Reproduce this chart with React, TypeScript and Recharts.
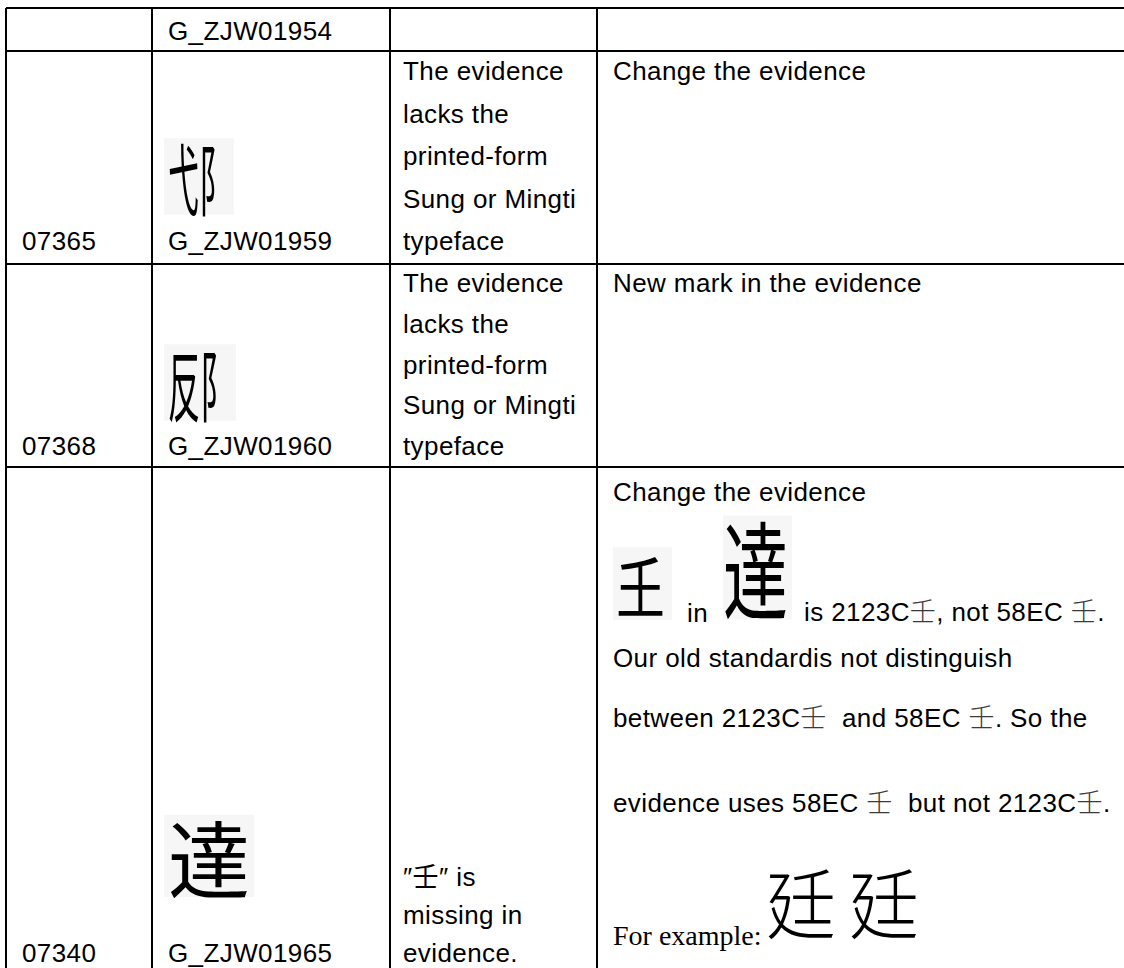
import React from "react";
import { ComposedChart, Scatter, XAxis, YAxis, ReferenceLine } from "recharts";

// table content
const rowIds = ["", "07365", "07368", "07340"];
const sourceRefs = ["G_ZJW01954", "G_ZJW01959", "G_ZJW01960", "G_ZJW01965"];
const glyphPics = ["", "弋阝", "反阝", "達"];
const problemLines = [
  [],
  ["The evidence", "lacks the", "printed-form", "Sung or Mingti", "typeface"],
  ["The evidence", "lacks the", "printed-form", "Sung or Mingti", "typeface"],
  ["″壬″ is", "missing in", "evidence."],
];
const actionLines = [
  [],
  ["Change the evidence"],
  ["New mark in the evidence"],
  [
    "Change the evidence",
    "Our old standardis not distinguish",
    "between 2123C壬  and 58EC 壬. So the",
    "evidence uses 58EC 壬  but not 2123C壬.",
  ],
];
const sealRun = ["𡈼", "in", "達", "is 2123C壬, not 58EC 壬."];
const exampleLabel = "For example:";
const exampleGlyphs = ["廷", "廷"];

// layout
const W = 1124;
const H = 968;
const colLeft = [6, 152, 390, 597];
const rowTop = [8, 51, 264, 467];
const textX = [22, 168, 403, 613];
const idBase = [40, 250, 455, 962];
const problemBase = [[], [80, 122.5, 165, 207.5, 250], [292, 332.75, 373.5, 414.25, 455], [886, 924, 962]];
const actionBase = [[], [80], [292], [501, 667, 727, 812]];
const glyphBase = [0, 210, 416, 892];
const glyphSize = [0, 78, 78, 84];
const glyphWidth = [0, 62, 64, 82];
const sealX = [616, 687, 723, 804];
const sealBase = [612, 622, 611, 621];
const exampleX = [766, 849];

const SANS = "'Liberation Sans', Arial, 'Noto Sans CJK JP', sans-serif";
const CJK = "'Noto Sans CJK JP', 'Noto Sans CJK SC', sans-serif";
const PIC = "'Liberation Sans', 'Noto Sans CJK JP', sans-serif";
const SERIF = "'Liberation Serif', 'Times New Roman', serif";
const BODY = { font: SANS, size: 26, spacing: 0.4 };

type Mark = {
  x: number; y: number; text: string;
  font: string; size: number; spacing?: number;
  w?: number; light?: boolean; weight?: number; bg?: number[];
};

const marks: Mark[] = [];
const add = (x: number, y: number, text: string, style: any = BODY) =>
  marks.push({ x, y, text, ...style });

rowIds.forEach((t, i) => t && add(textX[0], idBase[i], t));
sourceRefs.forEach((t, i) => add(textX[1], idBase[i], t));
glyphPics.forEach((t, i) => {
  if (!t) return;
  add(textX[1], glyphBase[i], t, { font: PIC, size: glyphSize[i], w: glyphWidth[i], bg: [-4, -0.92, 8, 0.98] });
});
problemLines.forEach((lines, i) => lines.forEach((t, j) => add(textX[2], problemBase[i][j], t)));
actionLines.forEach((lines, i) =>
  lines.forEach((t, j) => add(textX[3], actionBase[i][j], t, { ...BODY, light: true }))
);
add(sealX[0], sealBase[0], sealRun[0], { font: PIC, size: 66, w: 49, bg: [-3, -0.98, 10, 1.1] });
add(sealX[1], sealBase[1], sealRun[1]);
add(sealX[2], sealBase[2], sealRun[2], { font: PIC, size: 106, w: 65, bg: [0, -0.9, 4, 0.98] });
add(sealX[3], sealBase[3], sealRun[3], { ...BODY, light: true });
add(textX[3], 945, exampleLabel, { font: SERIF, size: 28 });
exampleGlyphs.forEach((t, i) => add(exampleX[i], 933, t, { font: PIC, size: 76, w: 70, weight: 300 }));

const hLines = rowTop.map((y) => [{ x: colLeft[0], y }, { x: W, y }]);
const vLines = colLeft.map((x) => [{ x, y: rowTop[0] }, { x, y: H }]);

function TextMark(props: any) {
  const { cx, cy, payload } = props;
  if (cx == null || cy == null) return null;
  const p: Mark = payload;
  const parts = p.light ? p.text.split(/(壬)/) : [p.text];
  // glyph pictures are squeezed horizontally to the width seen in the scan
  const sx = p.w ? p.w / (p.size * [...p.text].length) : 1;
  return (
    <g>
      {p.bg && (
        <rect
          x={cx + p.bg[0]}
          y={cy + p.bg[1] * p.size}
          width={(p.w ?? p.size) + p.bg[2]}
          height={p.bg[3] * p.size}
          fill="#f6f6f6"
        />
      )}
      <text
        x={0}
        y={0}
        transform={`translate(${cx},${cy}) scale(${sx},1)`}
        fontFamily={p.font}
        fontSize={p.size}
        fontWeight={p.weight ?? 400}
        letterSpacing={p.spacing ?? 0}
        fill="#000"
        style={{ whiteSpace: "pre" }}
      >
        {parts.map((s, i) =>
          s === "壬" ? (
            <tspan key={i} fontFamily={CJK} fontWeight={300} fill="#3a3a3a">{s}</tspan>
          ) : (
            <tspan key={i}>{s}</tspan>
          )
        )}
      </text>
    </g>
  );
}

export default function App() {
  return (
    <div style={{ position: "absolute", left: 0, top: 0, width: W, height: H, background: "#fff" }}>
      <ComposedChart width={W} height={H} margin={{ top: 0, right: 0, bottom: 0, left: 0 }} data={marks}>
        <XAxis type="number" dataKey="x" domain={[0, W]} allowDataOverflow hide />
        <YAxis type="number" dataKey="y" domain={[0, H]} allowDataOverflow reversed hide />
        {hLines.map((seg, i) => (
          <ReferenceLine key={"h" + i} segment={seg} stroke="#000" strokeWidth={2} ifOverflow="visible" />
        ))}
        {vLines.map((seg, i) => (
          <ReferenceLine key={"v" + i} segment={seg} stroke="#000" strokeWidth={2} ifOverflow="visible" />
        ))}
        <Scatter data={marks} dataKey="y" shape={TextMark} isAnimationActive={false} />
      </ComposedChart>
    </div>
  );
}
